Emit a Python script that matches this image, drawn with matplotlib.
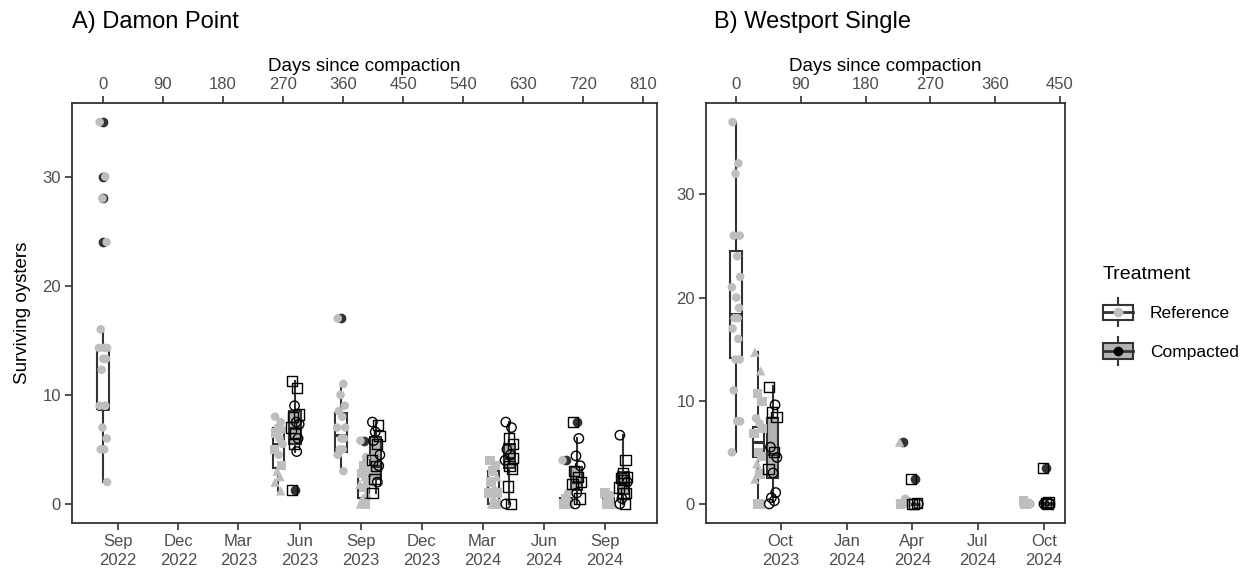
import numpy as np
import pandas as pd
import matplotlib
matplotlib.use('Agg')
import matplotlib.pyplot as plt
from matplotlib.legend_handler import HandlerBase
from matplotlib.patches import Rectangle
from matplotlib.lines import Line2D

plt.rcParams['font.family'] = ['Liberation Sans', 'DejaVu Sans']

# ---- Damon Point (panel A) ----
dp_start = '2022-08-10'
dp_day = [0, 263, 288, 357, 391, 409, 585, 609, 694, 710, 758, 780]
dp_trt = ['R', 'R', 'C', 'R', 'R', 'C', 'R', 'C', 'R', 'C', 'R', 'C']
dp_vals = [
    [35, 30, 28, 24, 16, 14.3, 14.3, 14.3, 13.3, 13.3, 12.3, 9, 9, 9, 7, 6, 5, 5, 2],
    [8, 7.5, 7, 6.8, 6.5, 6, 5.5, 5, 4.5, 3.5, 3, 2.5, 2, 1.2],
    [11.3, 10.6, 9, 8.2, 8, 7.5, 7.3, 7, 6.5, 6, 5.5, 4.8, 1.3],
    [17, 11, 10, 9, 8.5, 8, 7, 7, 6, 6, 5, 5, 4.5, 3],
    [5.8, 4.3, 3.5, 3, 2.8, 2.5, 2, 1.8, 1.5, 1, 0.5, 0, 0],
    [7.5, 7.2, 6.6, 6.2, 5.8, 5.5, 4.5, 4, 3.5, 3.5, 2.3, 2, 1],
    [4, 3.5, 3, 2.5, 2, 1.5, 1, 1, 0.5, 0, 0, 0],
    [7.5, 7, 6, 5.5, 5, 4.5, 4.2, 4, 3.5, 3.2, 1.6, 0, 0],
    [4, 1, 0.5, 0.3, 0, 0, 0],
    [7.5, 6, 4.4, 3.5, 3, 2.5, 2, 1.8, 1, 0.5, 0],
    [1, 0.8, 0.5, 0, 0, 0, 0],
    [6.3, 4, 2.8, 2.5, 2.4, 2.2, 2, 1.5, 1, 1, 0.5, 0, 0],
]
dp_shape = [
    'o' * 19,
    'oooosoosos^^^^',
    'ssossoossosos',
    'o' * 14,
    'oosss^s^s^^s^',
    'osososossoso' + 's',
    'sss^s^ss^s^s',
    'oossoosossss' + 'o',
    'oos^ss^',
    'sooossssoso',
    'sos^ss^',
    'osssssosssoso',
]
# whisker low, q1, median, q3, whisker high
dp_box = [
    (2, 8.7, 8.7, 14.4, 16),
    (1.2, 3.3, 5.5, 7.0, 8.0),
    (4.8, 5.5, 7.0, 8.5, 11.3),
    (3, 4.8, 6.3, 8.3, 11),
    (0, 0.5, 1.5, 3, 4.3),
    (1, 2.3, 3.5, 6.1, 7.5),
    (0, 0, 1, 3, 4),
    (0, 3.3, 4.2, 5.5, 7.5),
    (0, 0, 0, 0.5, 1),
    (0, 1.3, 2, 3.4, 6),
    (0, 0, 0, 0.5, 1),
    (0, 0.9, 1.8, 2.9, 6.3),
]
dp_out = [[24, 28, 30, 35], [], [1.3], [17], [5.8], [], [], [], [4], [7.5], [], []]
dp_ticks = ['2022-09-01', '2022-12-01', '2023-03-01', '2023-06-01', '2023-09-01',
            '2023-12-01', '2024-03-01', '2024-06-01', '2024-09-01']

# ---- Westport Single (panel B) ----
ws_start = '2023-07-31'
ws_day = [0, 31, 51, 232, 248, 404, 431]
ws_trt = ['R', 'R', 'C', 'R', 'C', 'R', 'C']
ws_vals = [
    [37, 33, 32, 26, 26, 24, 22, 21, 20, 19, 18, 18, 17, 16, 14, 14, 11, 8, 8, 5],
    [14.7, 12.9, 10.7, 9.9, 8.3, 7.8, 7.3, 6.8, 5, 4.6, 3.9, 2.9, 2.4, 0, 0],
    [11.3, 9.6, 8.9, 8.4, 5.5, 5, 4.5, 3.4, 3, 1.1, 0.6, 0.3, 0],
    [6, 0.5, 0.3, 0.2, 0, 0],
    [2.4, 0.1, 0, 0, 0],
    [0.3, 0.1, 0, 0, 0],
    [3.5, 0.2, 0.1, 0, 0, 0],
]
ws_shape = [
    'o' * 20,
    '^^ssoossss^s^ss',
    'sossososooooo',
    '^o^sso',
    'sssos',
    'sosos',
    'sssoos',
]
ws_box = [
    (5, 14.1, 18.4, 24.5, 37),
    (0, 4.5, 6, 7.5, 14.7),
    (0.3, 2.5, 4.8, 8.3, 11.4),
    (0, 0, 0, 0.3, 0.5),
    (0, 0, 0, 0, 0.1),
    (0, 0, 0, 0.1, 0.3),
    (0, 0, 0, 0.1, 0.2),
]
ws_out = [[], [], [], [6], [2.4], [], [3.5]]
ws_ticks = ['2023-10-01', '2024-01-01', '2024-04-01', '2024-07-01', '2024-10-01']

REF_GREY = '#BEBEBE'
COMP_FILL = '#B3B3B3'
LINE = '#333333'
TICKC = '#4D4D4D'
JIT = np.array([-0.3, 0.2, -0.05, 0.32, -0.2, 0.1, 0.36, -0.36, 0.02, 0.26, -0.12, 0.14])


def draw_panel(ax, start, days, trt, vals, shapes, box, outs, width, ticks, xlim, ylim, dtop):
    for i in range(len(days)):
        lo, q1, med, q3, hi = box[i]
        st = [{'whislo': lo, 'q1': q1, 'med': med, 'q3': q3, 'whishi': hi, 'fliers': outs[i]}]
        face = 'white' if trt[i] == 'R' else COMP_FILL
        ax.bxp(st, positions=[days[i]], widths=[width], patch_artist=True, showcaps=False,
               boxprops=dict(facecolor=face, edgecolor=LINE, lw=1.5),
               medianprops=dict(color=LINE, lw=2.2),
               whiskerprops=dict(color=LINE, lw=1.5),
               flierprops=dict(marker='o', mfc=LINE, mec=LINE, ms=6),
               manage_ticks=False, zorder=2)

    for i in range(len(days)):
        v = np.array(vals[i], dtype=float)
        x = days[i] + JIT[np.arange(len(v)) % len(JIT)] * width
        shp = np.array(list(shapes[i]))
        for m in ['o', '^', 's']:
            k = shp == m
            if not k.any():
                continue
            sz = 38 if m == 'o' else 46
            if trt[i] == 'R':
                ax.scatter(x[k], v[k], marker=m, s=sz, color=REF_GREY, edgecolors='none', zorder=3)
            else:
                ax.scatter(x[k], v[k], marker=m, s=sz + 8, facecolors='none', edgecolors='black',
                           linewidths=1.0, zorder=4)

    t0 = pd.Timestamp(start)
    tpos = [(pd.Timestamp(t) - t0).days for t in ticks]
    tlab = [pd.Timestamp(t).strftime('%b\n%Y') for t in ticks]
    ax.set_xticks(tpos)
    ax.set_xticklabels(tlab, linespacing=1.35)
    ax.set_xlim(xlim)
    ax.set_ylim(ylim)
    ax.set_yticks([0, 10, 20, 30])
    ax.tick_params(direction='out', length=5, width=1.2, color=LINE, labelcolor=TICKC,
                   labelsize=12, pad=3)
    for s in ax.spines.values():
        s.set_color(LINE)
        s.set_linewidth(1.3)

    top = ax.secondary_xaxis('top')
    top.set_xticks(dtop)
    top.tick_params(direction='out', length=5, width=1.2, color=LINE, labelcolor=TICKC,
                    labelsize=12, pad=3)
    top.spines['top'].set_visible(False)
    top.set_xlabel('Days since compaction', fontsize=13.5, labelpad=4)


fig = plt.figure(figsize=(12.58, 5.77), dpi=100)
axA = fig.add_axes([72 / 1258, 54 / 577, 585 / 1258, 420 / 577])
axB = fig.add_axes([706 / 1258, 54 / 577, 359 / 1258, 420 / 577])

draw_panel(axA, dp_start, dp_day, dp_trt, dp_vals, dp_shape, dp_box, dp_out, 17,
           dp_ticks, (-46.5, 830.6), (-1.75, 36.75), np.arange(0, 811, 90))
draw_panel(axB, ws_start, ws_day, ws_trt, ws_vals, ws_shape, ws_box, ws_out, 16,
           ws_ticks, (-41.7, 457), (-1.85, 38.85), np.arange(0, 451, 90))

axA.set_ylabel('Surviving oysters', fontsize=13.5, labelpad=8)

fig.text(72 / 1258, 1 - 22 / 577, 'A) Damon Point', fontsize=17, va='center', ha='left')
fig.text(714 / 1258, 1 - 22 / 577, 'B) Westport Single', fontsize=17, va='center', ha='left')


class BoxKey(HandlerBase):
    def __init__(self, face, dot):
        super().__init__()
        self.face = face
        self.dot = dot

    def create_artists(self, legend, orig_handle, xdescent, ydescent, width, height, fontsize, trans):
        x0, y0 = -xdescent, -ydescent
        cx = x0 + width / 2
        wl = Line2D([cx, cx], [y0 - 0.4 * height, y0 + 1.4 * height], color=LINE, lw=1.5, transform=trans)
        bx = Rectangle((x0, y0), width, height, facecolor=self.face, edgecolor=LINE, lw=1.5, transform=trans)
        md = Line2D([x0, x0 + width], [y0 + height / 2] * 2, color=LINE, lw=2.0, transform=trans)
        dt = Line2D([cx], [y0 + height / 2], marker='o', ms=6, color=self.dot, ls='', transform=trans)
        return [wl, bx, md, dt]


h_ref = Rectangle((0, 0), 1, 1)
h_comp = Rectangle((0, 0), 1, 1)
fig.legend([h_ref, h_comp], ['Reference', 'Compacted'],
           handler_map={h_ref: BoxKey('white', REF_GREY), h_comp: BoxKey(COMP_FILL, 'black')},
           loc='upper left', bbox_to_anchor=(1103 / 1258, 1 - 266 / 577), frameon=False,
           title='Treatment', title_fontsize=14, fontsize=12.5, alignment='left',
           handlelength=1.7, handleheight=1.0, handletextpad=1.0, labelspacing=1.25,
           borderpad=0, borderaxespad=0)

fig.savefig('out.png', dpi=100)
